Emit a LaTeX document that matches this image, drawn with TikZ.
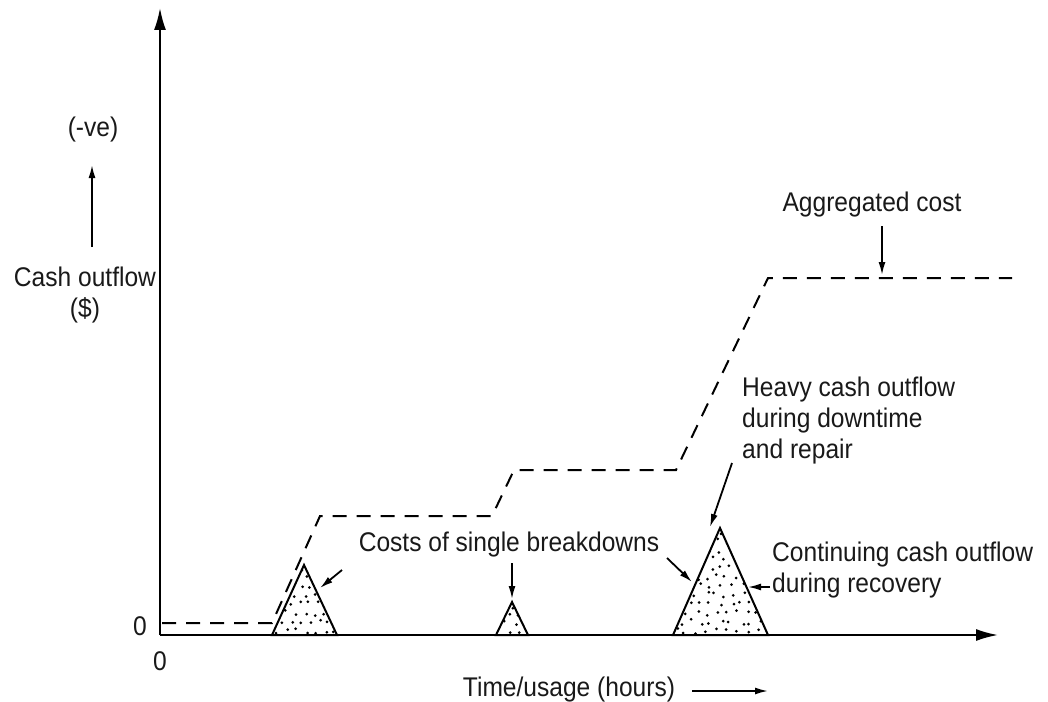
\documentclass[tikz,border=0pt]{standalone}
\usepackage{fontspec}
\setmainfont{Liberation Sans}[FakeStretch=0.91]
\usetikzlibrary{arrows.meta}

% stipple fill: jittered grid of dots, clipped to the current region
\newcommand{\stipple}[4]{% #1 x0, #2 y0, #3 columns, #4 rows
  \foreach \i in {0,...,#3}{%
    \foreach \j in {0,...,#4}{%
      \pgfmathsetmacro{\rx}{#1+10*\i+5*mod(\j,2)+3*rand}%
      \pgfmathsetmacro{\ry}{#2+9*\j+3*rand}%
      \fill (\rx,\ry) circle (1.5);
    }%
  }%
}

\begin{document}
\begin{tikzpicture}[x=1pt,y=-1pt,
  lbl/.style={inner sep=0pt, text=black!90, font=\fontsize{27}{31}\selectfont},
  axis/.style={line width=2pt, -{Latex[length=22pt,width=12pt]}},
  dashline/.style={line width=2pt, dash pattern=on 14pt off 10pt},
  tri/.style={line width=2pt, line join=miter, fill=white},
  ptr/.style={line width=1.8pt, -{Latex[length=13pt,width=7pt]}}]
\useasboundingbox (0,0) rectangle (1048,701);

% axes
\coordinate (O) at (160,635);
\coordinate (ytop) at (160,8);
\coordinate (xend) at (998,635);

% aggregated cost (dashed staircase)
\draw[dashline] (162,623) -- (272,623) -- (320,516) -- (492,516) -- (514,470)
  -- (676,470) -- (768,278) -- (1012,278);

% breakdown cost triangles
\coordinate (t1l) at (272,635); \coordinate (t1a) at (304,565); \coordinate (t1r) at (337,635);
\coordinate (t2l) at (496,635); \coordinate (t2a) at (512,602); \coordinate (t2r) at (528,635);
\coordinate (t3l) at (673,635); \coordinate (t3a) at (720,528); \coordinate (t3r) at (768,635);

\draw[tri] (t1l) -- (t1a) -- (t1r) -- cycle;
\draw[tri] (t2l) -- (t2a) -- (t2r) -- cycle;
\draw[tri] (t3l) -- (t3a) -- (t3r) -- cycle;

\pgfmathsetseed{11}
\begin{scope}
  \clip (t1l) -- (t1a) -- (t1r) -- cycle;
  \stipple{270}{568}{7}{8}
\end{scope}
\begin{scope}
  \clip (t2l) -- (t2a) -- (t2r) -- cycle;
  \stipple{494}{606}{4}{4}
\end{scope}
\begin{scope}
  \clip (t3l) -- (t3a) -- (t3r) -- cycle;
  \stipple{671}{532}{10}{12}
\end{scope}

\draw[axis] (O) -- (ytop);
\draw[axis] (O) -- (xend);

% labels
\node[lbl] (zeroY) at (140,626) {0};
\node[lbl] (zeroX) at (160,661) {0};
\node[lbl] (neg) at (93,130) {(-ve)};
\node[lbl, align=center] (cash) at (85,295) {Cash outflow\\(\$)};
\node[lbl] (agg) at (872,205) {Aggregated cost};
\node[lbl] (single) at (509,545) {Costs of single breakdowns};
\node[lbl, align=left, anchor=west] (heavy) at (742,421) {Heavy cash outflow\\during downtime\\and repair};
\node[lbl, align=left, anchor=west] (cont) at (772,570) {Continuing cash outflow\\during recovery};
\node[lbl] (time) at (569,690) {Time/usage (hours)};

% pointer arrows
\coordinate (negS) at (92,247);   \coordinate (negE) at (92,165);
\coordinate (p1S) at (342,570);   \coordinate (p1E) at (320,588);
\coordinate (p2S) at (512,563);   \coordinate (p2E) at (512,599);
\coordinate (p3S) at (667,558);   \coordinate (p3E) at (692,582);
\coordinate (p4S) at (732,463);   \coordinate (p4E) at (710,527);
\coordinate (p5S) at (770,587);   \coordinate (p5E) at (748,587);
\coordinate (aggS) at (882,226);  \coordinate (aggE) at (882,275);
\coordinate (timeS) at (692,691); \coordinate (timeE) at (768,691);

\draw[ptr] (negS) -- (negE);
\draw[ptr] (p1S) -- (p1E);
\draw[ptr] (p2S) -- (p2E);
\draw[ptr] (p3S) -- (p3E);
\draw[ptr] (p4S) -- (p4E);
\draw[ptr] (p5S) -- (p5E);
\draw[ptr] (aggS) -- (aggE);
\draw[ptr] (timeS) -- (timeE);
\end{tikzpicture}
\end{document}
